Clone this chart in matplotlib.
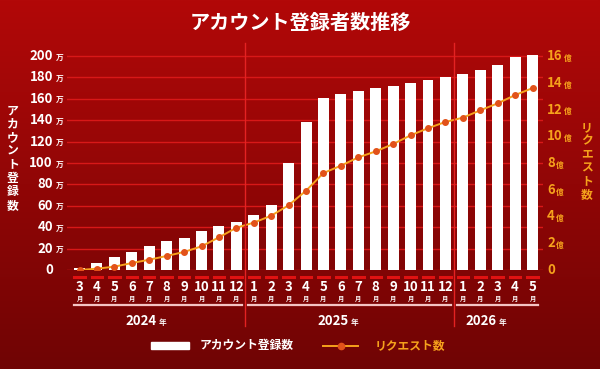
import numpy as np
import matplotlib
matplotlib.use("Agg")
import matplotlib.pyplot as plt
from matplotlib.transforms import blended_transform_factory
from matplotlib.lines import Line2D
from matplotlib.patches import Rectangle

plt.rcParams['font.family'] = ['Noto Sans CJK JP', 'DejaVu Sans']

# ---- data ----
years = ["2024", "2025", "2026"]
months = [3, 4, 5, 6, 7, 8, 9, 10, 11, 12,
          1, 2, 3, 4, 5, 6, 7, 8, 9, 10, 11, 12,
          1, 2, 3, 4, 5]
year_of_month = ["2024"] * 10 + ["2025"] * 12 + ["2026"] * 5
accounts = [1.5, 6.8, 11.8, 16.5, 22, 27, 29.6, 36.4, 41, 44.5,
            51, 61, 100, 138, 161, 164.5, 167, 170, 172, 175, 178, 180.6,
            183, 187, 192, 199, 201]          # 万
requests = [0.0, 0.1, 0.25, 0.52, 0.77, 1.05, 1.35, 1.77, 2.44, 3.16,
            3.54, 4.06, 4.84, 5.93, 7.25, 7.8, 8.42, 8.87, 9.42, 10.07, 10.6, 11.07,
            11.39, 11.94, 12.46, 13.08, 13.6]  # 億
left_ticks = [0, 20, 40, 60, 80, 100, 120, 140, 160, 180, 200]
right_ticks = [0, 2, 4, 6, 8, 10, 12, 14, 16]

W, H = 600, 369
fig = plt.figure(figsize=(6, 3.69), dpi=100)

def fx(px):
    return px / W

def fy(py):
    return 1 - py / H

# background gradient
bg = fig.add_axes([0, 0, 1, 1], zorder=-10)
top = np.array([178, 8, 8]) / 255
bot = np.array([112, 4, 4]) / 255
t = np.linspace(0, 1, 256)[:, None]
grad = top[None, :] * (1 - t) + bot[None, :] * t
bg.imshow(grad[:, None, :].repeat(2, axis=1), aspect='auto', extent=[0, 1, 0, 1])
bg.axis('off')

WHITE = '#ffffff'
ORANGE = '#f6a21c'
DOT = '#e2521a'
GRID = '#d81818'

# main axes: y=0 at px 270, y=200 at px 56
ymax = 205
px_per = (270 - 56) / 200
top_px = 270 - ymax * px_per
ax = fig.add_axes([fx(67), fy(270), fx(543) - fx(67), (270 - top_px) / H])
ax.set_facecolor('none')
n = len(months)
x = np.arange(n)
ax.set_xlim(-0.72, n - 1 + 0.6)
ax.set_ylim(0, ymax)
for v in left_ticks:
    ax.axhline(v, color=GRID, lw=1.0, zorder=1)
ax.bar(x, accounts, width=0.63, color=WHITE, zorder=3)
for s in ax.spines.values():
    s.set_visible(False)
ax.set_xticks([])
ax.set_yticks([])

ax2 = ax.twinx()
ax2.set_ylim(0, 16 * ymax / 200)
ax2.set_xlim(ax.get_xlim())
for s in ax2.spines.values():
    s.set_visible(False)
ax2.set_xticks([])
ax2.set_yticks([])
ax2.plot(x, requests, color=ORANGE, lw=1.4, zorder=4)
ax2.plot(x, requests, 'o', color=DOT, ms=4.0, zorder=5)

# left tick labels
tl = blended_transform_factory(fig.transFigure, ax.transData)
for v in left_ticks:
    ax.text(fx(53), v, str(v), transform=tl, ha='right', va='center',
            color=WHITE, fontsize=9.5, fontweight='bold')
    if v != 0:
        ax.text(fx(56), v - 2, '万', transform=tl, ha='left', va='center',
                color=WHITE, fontsize=5.5, fontweight='bold')

# right tick labels
tr = blended_transform_factory(fig.transFigure, ax2.transData)
for v in right_ticks:
    s = str(v)
    ax2.text(fx(547), v, s, transform=tr, ha='left', va='center',
             color=ORANGE, fontsize=9.5, fontweight='bold')
    if v != 0:
        ax2.text(fx(548.5 + 7.6 * len(s)), v - 0.17, '億', transform=tr, ha='left',
                 va='center', color=ORANGE, fontsize=5.5, fontweight='bold')

# axis titles (stacked vertical text)
fig.text(fx(13), fy(158), '\n'.join('アカウント登録数'), ha='center', va='center',
         color=WHITE, fontsize=8.5, fontweight='bold', linespacing=1.05)
fig.text(fx(587), fy(161), '\n'.join('リクエスト数'), ha='center', va='center',
         color=ORANGE, fontsize=8.5, fontweight='bold', linespacing=1.05)

# title
fig.text(0.5, fy(22), 'アカウント登録者数推移', ha='center', va='center',
         color=WHITE, fontsize=14.5, fontweight='bold')

# month labels and dashes
tb = blended_transform_factory(ax.transData, fig.transFigure)
for i, m in enumerate(months):
    fig.add_artist(Line2D([i - 0.3, i + 0.3], [fy(277), fy(277)], transform=tb,
                          color='#e01212', lw=2.2))
    fig.text(i, fy(287), str(m), transform=tb, ha='center', va='center',
             color=WHITE, fontsize=9.5, fontweight='bold')
    fig.text(i, fy(298), '月', transform=tb, ha='center', va='center',
             color=WHITE, fontsize=4.5, fontweight='bold')

# year underlines, labels, separators
for yr in years:
    idx = [i for i, y in enumerate(year_of_month) if y == yr]
    a, b = idx[0], idx[-1]
    fig.add_artist(Line2D([a - 0.33, b + 0.33], [fy(305), fy(305)], transform=tb,
                          color='#f4c4c4', lw=1.6))
    c = (a + b) / 2
    fig.text(c - 0.05, fy(321), yr, transform=tb, ha='right', va='center',
             color=WHITE, fontsize=9.5, fontweight='bold')
    fig.text(c + 0.05, fy(322), '年', transform=tb, ha='left', va='center',
             color=WHITE, fontsize=5.5, fontweight='bold')
    if a > 0:
        fig.add_artist(Line2D([a - 0.5, a - 0.5], [fy(43), fy(326)], transform=tb,
                              color='#e42222', lw=1.0, zorder=2))

# legend
fig.add_artist(Rectangle((fx(151), fy(349)), fx(189) - fx(151), fy(342) - fy(349),
                         transform=fig.transFigure, color=WHITE))
fig.text(fx(200), fy(345.5), 'アカウント登録数', ha='left', va='center',
         color=WHITE, fontsize=8.5, fontweight='bold')
fig.add_artist(Line2D([fx(323), fx(358)], [fy(345.5), fy(345.5)],
                      transform=fig.transFigure, color=ORANGE, lw=1.4))
fig.add_artist(Line2D([fx(340.5)], [fy(345.5)], transform=fig.transFigure,
                      marker='o', color=DOT, ms=4.5))
fig.text(fx(375), fy(345.5), 'リクエスト数', ha='left', va='center',
         color=ORANGE, fontsize=8.5, fontweight='bold')

fig.savefig('out.png', dpi=100)
